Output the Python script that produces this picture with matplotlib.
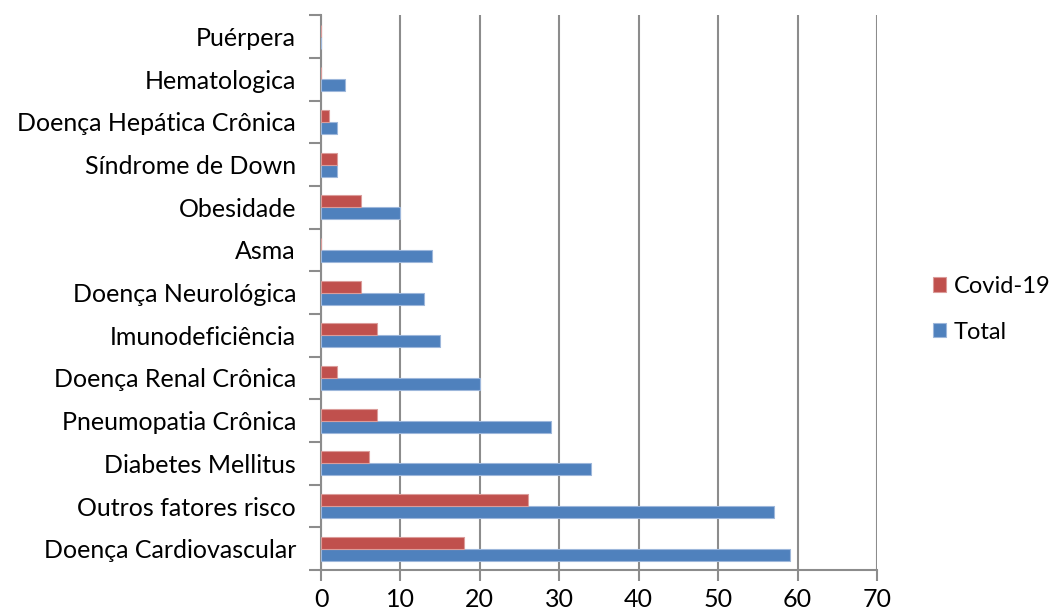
import numpy as np
import matplotlib.pyplot as plt

# comorbidades, de baixo para cima
categorias = ['Doença Cardiovascular', 'Outros fatores risco', 'Diabetes Mellitus',
              'Pneumopatia Crônica', 'Doença Renal Crônica', 'Imunodeficiência',
              'Doença Neurológica', 'Asma', 'Obesidade', 'Síndrome de Down',
              'Doença Hepática Crônica', 'Hematologica', 'Puérpera']
total = [59, 57, 34, 29, 20, 15, 13, 14, 10, 2, 2, 3, 0]
covid = [18, 26, 6, 7, 2, 7, 5, 0, 5, 2, 1, 0, 0]

plt.rcParams['font.family'] = ['Lato', 'DejaVu Sans']
fs = 18

fig = plt.figure(figsize=(10.57, 6.09), dpi=100)
ax = fig.add_axes([0.3037, 0.064, 0.526, 0.911])

y = np.arange(len(categorias))
h = 0.28
ax.barh(y - h / 2, total, height=h, color='#4F81BD', edgecolor='#9DB7DB',
        linewidth=0.8, label='Total', zorder=3)
ax.barh(y + h / 2, covid, height=h, color='#C0504D', edgecolor='#DB9C9A',
        linewidth=0.8, label='Covid-19', zorder=3)

ax.set_xlim(0, 70)
ax.set_ylim(-0.5, len(categorias) - 0.5)
ax.set_xticks(range(0, 71, 10))
ax.set_yticks(y)
ax.set_yticklabels(categorias)
ax.set_yticks(np.arange(-0.5, len(categorias), 1), minor=True)

ax.xaxis.grid(True, color='#8C8C8C', linewidth=1.5, zorder=0)
for s in ['top', 'right']:
    ax.spines[s].set_visible(False)
for s in ['left', 'bottom']:
    ax.spines[s].set_color('#8C8C8C')
    ax.spines[s].set_linewidth(1.5)

ax.tick_params(axis='y', which='major', length=0, pad=18, labelsize=fs)
ax.tick_params(axis='y', which='minor', length=9, width=1.5, color='#8C8C8C')
ax.tick_params(axis='x', length=8, width=1.5, color='#8C8C8C', labelsize=fs, pad=5)

handles, labels = ax.get_legend_handles_labels()
ax.legend(handles[::-1], labels[::-1], loc='center left', bbox_to_anchor=(1.1, 0.47),
          frameon=False, fontsize=17, handlelength=0.55, handleheight=0.55,
          handletextpad=0.35, labelspacing=1.05, borderpad=0, borderaxespad=0)

plt.savefig('out.png', dpi=100)
